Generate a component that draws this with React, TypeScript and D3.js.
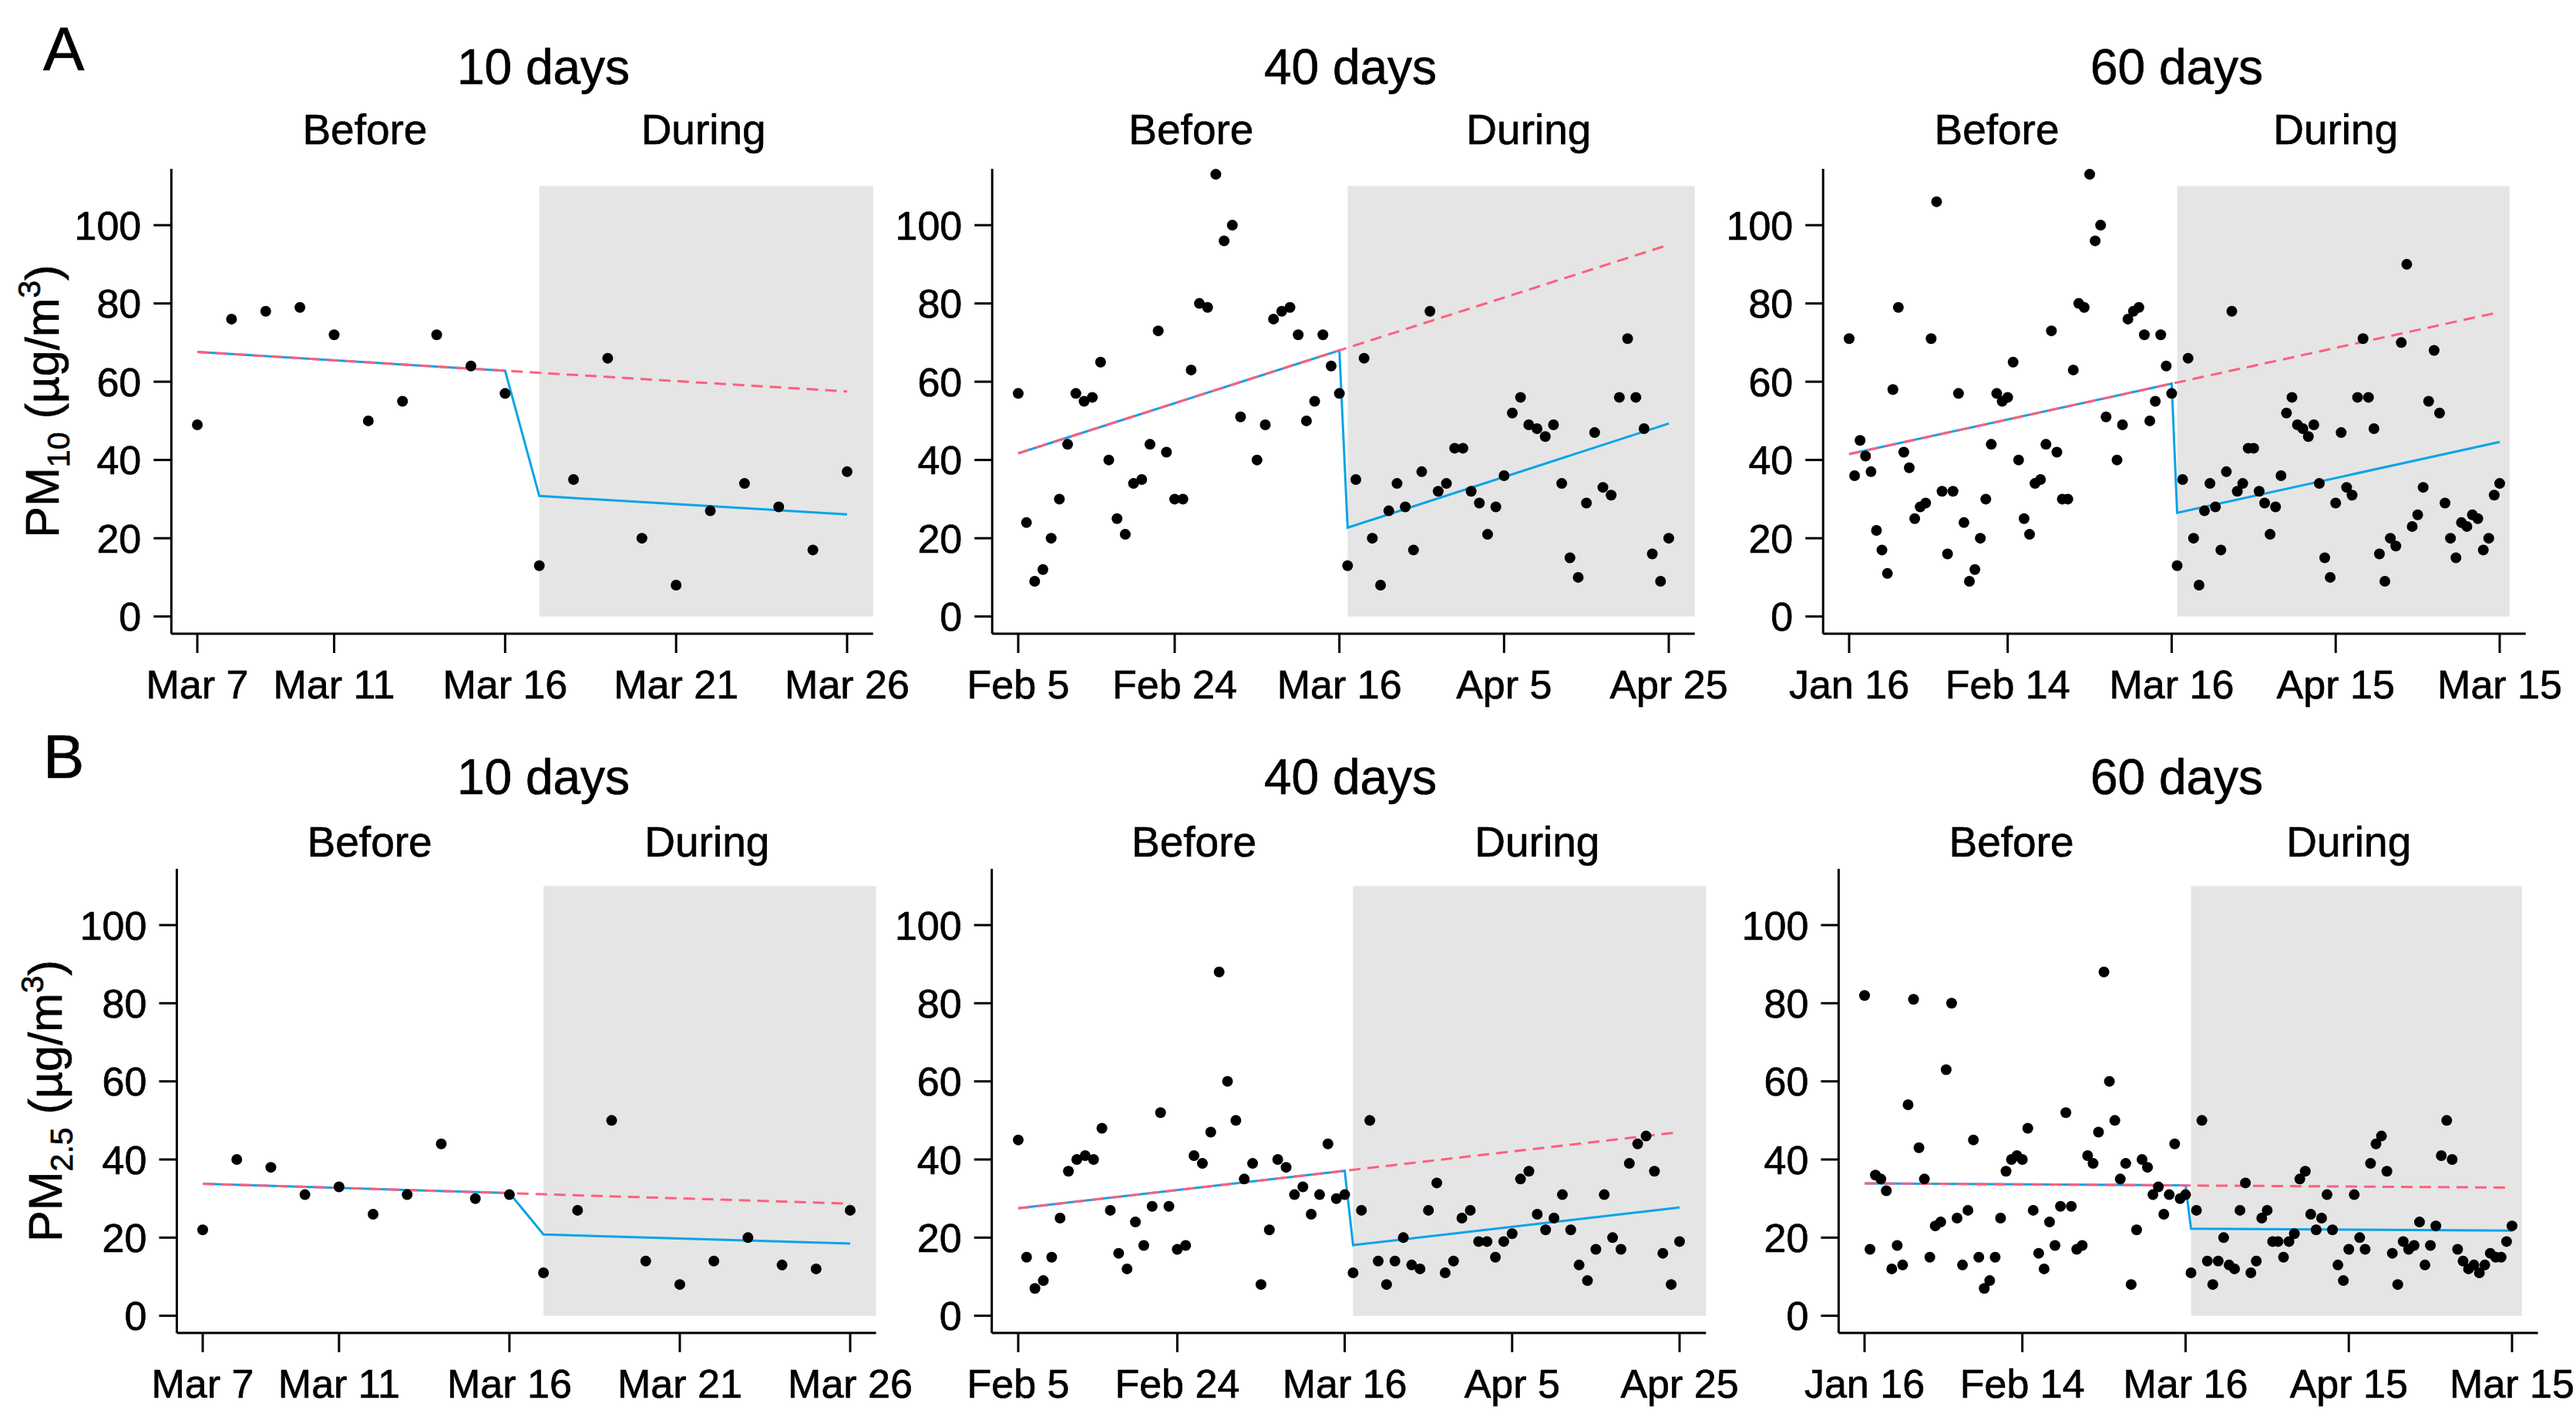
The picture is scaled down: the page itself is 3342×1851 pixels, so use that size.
import { useEffect, useRef } from 'react';
import * as d3 from 'd3';

const W = 3342;
const H = 1851;

// Daily PM10 (µg/m3), 60 days before (Jan 16 - Mar 16) and 60 days during the lockdown.
// null = missing day. Shorter windows are the last/first days of these series.
const pm10Before = [
  71, 36, 45, 41, 37, 22, 17, 11, 58, 79, 42, 38, 25, 28, 29, 71, 106, 32, 16, 32,
  57, 24, 9, 12, 20, 30, 44, 57, 55, 56, 65, 40, 25, 21, 34, 35, 44, 73, 42, 30,
  30, 63, 80, 79, 113, 96, 100, 51, null, 40, 49, 76, 78, 79, 72, 50, 55, 72, 64, 57,
];
const pm10During = [
  13, 35, 66, 20, 8, 27, 34, 28, 17, 37, 78, 32, 34, 43, 43, 32, 29, 21, 28, 36,
  52, 56, 49, 48, 46, 49, 34, 15, 10, 29, 47, 33, 31, 56, 71, 56, 48, 16, 9, 20,
  18, 70, 90, 23, 26, 33, 55, 68, 52, 29, 20, 15, 24, 23, 26, 25, 17, 20, 31, 34,
];
const pm25Before = [
  82, 17, 36, 35, 32, 12, 18, 13, 54, 81, 43, 35, 15, 23, 24, 63, 80, 25, 13, 27,
  45, 15, 7, 9, 15, 25, 37, 40, 41, 40, 48, 27, 16, 12, 24, 18, 28, 52, 28, 17,
  18, 41, 39, 47, 88, 60, 50, 35, 39, 8, 22, 40, 38, 31, 33, 26, 31, 44, 30, 31,
];
const pm25During = [
  11, 27, 50, 14, 8, 14, 20, 13, 12, 27, 34, 11, 14, 25, 27, 19, 19, 15, 19, 21,
  35, 37, 26, 22, 25, 31, 22, 13, 9, 17, 31, 20, 17, 39, 44, 46, 37, 16, 8, 19,
  17, 18, 24, 13, 18, 23, 41, 50, 40, 17, 14, 12, 13, 11, 13, 16, 15, 15, 19, 23,
];

const windowDays = [10, 40, 60];
const windowTitles = ['10 days', '40 days', '60 days'];
const tickIndex = [
  [1, 5, 10, 15, 20],
  [1, 20, 40, 60, 80],
  [1, 30, 60, 90, 120],
];
const tickLabels = [
  ['Mar 7', 'Mar 11', 'Mar 16', 'Mar 21', 'Mar 26'],
  ['Feb 5', 'Feb 24', 'Mar 16', 'Apr 5', 'Apr 25'],
  ['Jan 16', 'Feb 14', 'Mar 16', 'Apr 15', 'Mar 15'],
];
const yTicks = [0, 20, 40, 60, 80, 100];

// fitted lines
// trend: counterfactual (pre-period trend) at first and last day
// fit: model at last "before" day, first "during" day, last day
const pm10Trend = [[67.6, 57.5], [41.7, 95.0], [41.5, 77.8]];
const pm10Fit = [[62.8, 30.8, 26.1], [68.0, 22.7, 49.3], [59.5, 26.5, 44.6]];
const pm25Trend = [[33.8, 28.7], [27.5, 47.0], [33.9, 32.8]];
const pm25Fit = [[31.4, 20.8, 18.5], [37.1, 18.1, 27.7], [33.4, 22.3, 21.8]];

const series = [
  { letter: 'A', sub: '10', before: pm10Before, during: pm10During, trend: pm10Trend, fit: pm10Fit },
  { letter: 'B', sub: '2.5', before: pm25Before, during: pm25During, trend: pm25Trend, fit: pm25Fit },
];

// layout (pixels)
const rowLayout = [
  { top: 219, bottom: 822, titleY: 109, subY: 187, letterY: 91, labelX: 76,
    cols: [[256, 1099], [1321, 2165], [2399, 3243]] },
  { top: 1127, bottom: 1729, titleY: 1030, subY: 1111, letterY: 1009, labelX: 80,
    cols: [[263, 1103], [1321, 2179], [2419, 3259]] },
];
const titleX = [705, 1752, 2824];
const periodLabelAt = [[5.9, 15.8], [22, 63], [28, 90]];
const grayExtra = [0.76, 3.16, 1.8];

const FONT = '"Liberation Sans", Arial, Helvetica, sans-serif';
const RED = '#ff5f7e';
const BLUE = '#0aa3e8';
const GRAY = '#e5e5e5';

export default function App() {
  const svgRef = useRef<SVGSVGElement | null>(null);

  useEffect(() => {
    if (!svgRef.current) return;
    const svg = d3.select(svgRef.current);
    svg.selectAll('*').remove();

    svg.append('rect').attr('width', W).attr('height', H).attr('fill', '#fff');

    // all text slightly heavier, like the original
    const txt = (sel: d3.Selection<SVGTextElement, unknown, null, undefined>, size: number) =>
      sel.style('font-family', FONT).style('font-size', `${size}px`)
        .style('stroke', '#000').style('stroke-width', 0.7).style('fill', '#000');

    series.forEach((s, r) => {
      const lay = rowLayout[r];
      const y = d3.scaleLinear().domain([-4.4, 114.4]).range([lay.bottom, lay.top]);

      // panel letter
      txt(svg.append('text').attr('x', 56).attr('y', lay.letterY), 80).text(s.letter);

      // y axis label
      const mid = (lay.top + lay.bottom) / 2;
      const lab = txt(svg.append('text')
        .attr('transform', `translate(${lay.labelX},${mid}) rotate(-90)`)
        .attr('text-anchor', 'middle'), 61);
      lab.append('tspan').text('PM');
      lab.append('tspan').attr('dy', 14).style('font-size', '41px').text(s.sub);
      lab.append('tspan').attr('dy', -14).text(' (µg/m');
      lab.append('tspan').attr('dy', -24).style('font-size', '41px').text('3');
      lab.append('tspan').attr('dy', 24).text(')');

      windowDays.forEach((days, w) => {
        const N = days * 2;
        const half = days;
        const vals = [
          ...s.before.slice(s.before.length - days),
          ...s.during.slice(0, days),
        ].map((v, i) => ({ i: i + 1, v }));

        const [x1, xN] = lay.cols[w];
        const x = d3.scaleLinear().domain([1, N]).range([x1, xN]);
        const pad = 0.04 * (N - 1);
        const left = x(1 - pad);
        const right = x(N + pad);

        const g = svg.append('g');

        // lockdown shading
        g.append('rect')
          .attr('x', x(half + 1))
          .attr('y', y(110))
          .attr('width', x(N + grayExtra[w]) - x(half + 1))
          .attr('height', y(0) - y(110))
          .attr('fill', GRAY);

        // titles
        txt(g.append('text')
          .attr('x', titleX[w]).attr('y', lay.titleY)
          .attr('text-anchor', 'middle'), 64)
          .text(windowTitles[w]);
        ['Before', 'During'].forEach((t, k) => {
          txt(g.append('text')
            .attr('x', x(periodLabelAt[w][k])).attr('y', lay.subY)
            .attr('text-anchor', 'middle'), 55)
            .text(t);
        });

        // axes
        g.append('line')
          .attr('x1', left).attr('x2', left)
          .attr('y1', lay.bottom).attr('y2', lay.top)
          .attr('stroke', '#000').attr('stroke-width', 3);
        g.append('line')
          .attr('x1', left).attr('x2', right)
          .attr('y1', lay.bottom).attr('y2', lay.bottom)
          .attr('stroke', '#000').attr('stroke-width', 3);

        yTicks.forEach(t => {
          g.append('line')
            .attr('x1', left - 23).attr('x2', left)
            .attr('y1', y(t)).attr('y2', y(t))
            .attr('stroke', '#000').attr('stroke-width', 3);
          txt(g.append('text')
            .attr('x', left - 39).attr('y', y(t)).attr('dy', '0.36em')
            .attr('text-anchor', 'end'), 52)
            .text(t);
        });

        tickIndex[w].forEach((t, k) => {
          g.append('line')
            .attr('x1', x(t)).attr('x2', x(t))
            .attr('y1', lay.bottom).attr('y2', lay.bottom + 25)
            .attr('stroke', '#000').attr('stroke-width', 3);
          txt(g.append('text')
            .attr('x', x(t)).attr('y', lay.bottom + 84)
            .attr('text-anchor', 'middle'), 52)
            .text(tickLabels[w][k]);
        });

        // fitted model (solid blue) and counterfactual trend (dashed red)
        const [tStart, tEnd] = s.trend[w];
        const [preEnd, durStart, durEnd] = s.fit[w];
        const line = d3.line<[number, number]>().x(d => x(d[0])).y(d => y(d[1]));
        g.append('path')
          .attr('d', line([[1, tStart], [half, preEnd], [half + 1, durStart], [N, durEnd]]))
          .attr('fill', 'none').attr('stroke', BLUE).attr('stroke-width', 3);
        g.append('path')
          .attr('d', line([[1, tStart], [N, tEnd]]))
          .attr('fill', 'none').attr('stroke', RED).attr('stroke-width', 3)
          .attr('stroke-dasharray', '15 9');

        // daily points
        g.selectAll('.pt')
          .data(vals.filter(d => d.v !== null))
          .enter()
          .append('circle')
          .attr('cx', d => x(d.i))
          .attr('cy', d => y(d.v as number))
          .attr('r', 7)
          .attr('fill', '#000');
      });
    });
  }, []);

  return (
    <div style={{ position: 'absolute', left: 0, top: 0, width: W, height: H, background: '#fff' }}>
      <svg ref={svgRef} width={W} height={H}></svg>
    </div>
  );
}
